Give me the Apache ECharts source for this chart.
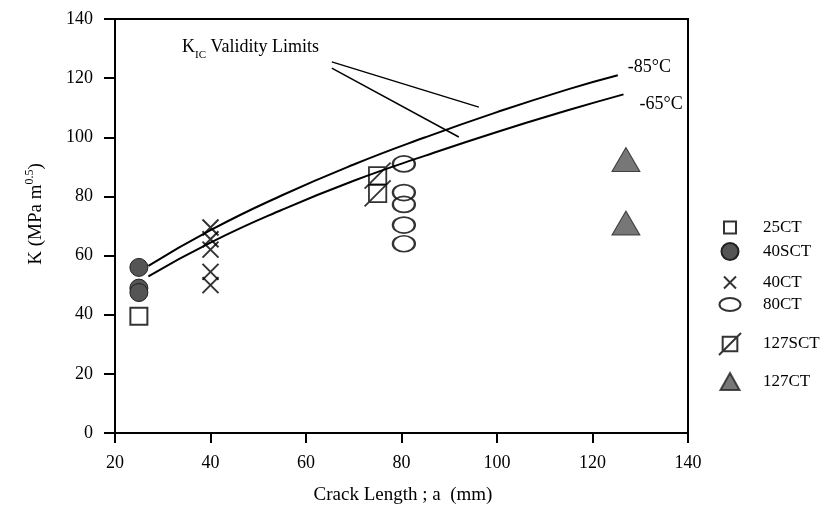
<!DOCTYPE html>
<html>
<head>
<meta charset="utf-8">
<script src="https://cdn.jsdelivr.net/npm/echarts@6/dist/echarts.min.js"></script>
<style>
  html, body { margin: 0; padding: 0; background: #fff; }
  #chart { width: 835px; height: 515px; }
</style>
</head>
<body>
<div id="chart"></div>
<script>
// data: [crack length a (mm), K (MPa m^0.5)]
const ct25 = [[25, 39.5]];
const sct40 = [[25, 56], [25, 49], [25, 47.5]];
const ct40 = [[40, 69.5], [40, 65.5], [40, 62], [40, 54.5], [40, 50]];
const ct80 = [[80.5, 91], [80.5, 81.3], [80.5, 77.3], [80.5, 70.3], [80.5, 64]];
const sct127 = [[75, 87], [75, 81]];
const ct127 = [[127, 92.5], [127, 71]];

// K_IC validity limit curves
const limit85 = [[27, 56.5], [40, 68.6], [55, 80.4], [70, 90.8], [85, 100], [100, 108.5], [115, 116.3], [125.3, 121]];
const limit65 = [[27, 53], [40, 64.4], [55, 75.5], [70, 85.3], [85, 93.8], [100, 101.8], [115, 109.2], [126.5, 114.5]];

// leader lines from the "Validity Limits" note
const noteLines = [
  [[65.4, 125.5], [96.2, 110.2]],
  [[65.4, 123.4], [92, 100.1]]
];

const xTicks = { min: 20, max: 140, step: 20 };
const yTicks = { min: 0, max: 140, step: 20 };

const FONT = "Liberation Serif";
const DARK = "#555";

const chart = echarts.init(document.getElementById("chart"));

// 符号
const crossPath = "path://M0,0L10,10M10,0L0,10";
const ellipsePath = "path://M0,8A11,8 0 1,0 22,8A11,8 0 1,0 0,8Z";
const slashBoxPath = "path://M4,4L20,4L20,20L4,20Z M0,24L24,0";

// one legend per item so the rows sit where they do in the figure
function legendItem(name, cy, w, h, icon, keep) {
  return {
    data: [{ name: name, icon: icon }],
    left: 729 - w / 2,
    top: cy - 10,
    padding: 0,
    itemWidth: w,
    itemHeight: h,
    symbolKeepAspect: keep,
    textStyle: {
      fontFamily: FONT,
      fontSize: 17,
      color: "#000",
      padding: [0, 0, 0, 28 - w / 2],
    },
    selectedMode: false,
  };
}

const option = {
  animation: false,
  backgroundColor: "#fff",
  grid: {
    left: 115,
    right: 147,
    top: 19,
    bottom: 82,
    show: true,
    borderColor: "#000",
    borderWidth: 2,
  },
  xAxis: {
    type: "value",
    min: xTicks.min,
    max: xTicks.max,
    interval: xTicks.step,
    axisLine: { lineStyle: { color: "#000", width: 2 } },
    axisTick: { length: 10, lineStyle: { color: "#000", width: 2 } },
    axisLabel: { margin: 21, color: "#000", fontFamily: FONT, fontSize: 18 },
    splitLine: { show: false },
  },
  yAxis: {
    type: "value",
    min: yTicks.min,
    max: yTicks.max,
    interval: yTicks.step,
    axisLine: { lineStyle: { color: "#000", width: 2 } },
    axisTick: { length: 11, lineStyle: { color: "#000", width: 2 } },
    axisLabel: { margin: 22, color: "#000", fontFamily: FONT, fontSize: 18 },
    splitLine: { show: false },
  },
  legend: [
    legendItem("25CT", 229, 12, 12, "rect", true),
    legendItem("40SCT", 252, 17, 17, "circle", true),
    legendItem("40CT", 284, 12, 12, crossPath, true),
    legendItem("80CT", 306, 21, 13, ellipsePath, false),
    legendItem("127SCT", 342, 22, 22, slashBoxPath, true),
    legendItem("127CT", 382, 19, 17, "triangle", false),
  ],
  graphic: [
    {
      type: "text",
      left: 182,
      top: 38,
      style: {
        text: "{n|K}{sub|IC}{n| Validity Limits}",
        rich: {
          n: { fontFamily: FONT, fontSize: 18, color: "#000", lineHeight: 28, verticalAlign: "middle" },
          sub: { fontFamily: FONT, fontSize: 11, color: "#000", lineHeight: 28, verticalAlign: "bottom" },
        },
      },
    },
    {
      type: "text",
      x: 36,
      y: 214,
      rotation: Math.PI / 2,
      style: {
        text: "{n|K (MPa m}{sup|0.5}{n|)}",
        align: "center",
        verticalAlign: "middle",
        rich: {
          n: { fontFamily: FONT, fontSize: 19, color: "#000", lineHeight: 25, verticalAlign: "middle" },
          sup: { fontFamily: FONT, fontSize: 12, color: "#000", lineHeight: 25, verticalAlign: "top" },
        },
      },
    },
    {
      type: "text",
      x: 403,
      y: 495,
      style: {
        text: "Crack Length ; a  (mm)",
        align: "center",
        verticalAlign: "middle",
        fontFamily: FONT,
        fontSize: 19,
        fill: "#000",
      },
    },
  ],
  series: [
    {
      name: "-85°C",
      type: "line",
      data: limit85,
      smooth: true,
      showSymbol: false,
      silent: true,
      lineStyle: { color: "#000", width: 2 },
      endLabel: {
        show: true,
        formatter: "-85°C",
        offset: [2, -8],
        fontFamily: FONT,
        fontSize: 18,
        color: "#000",
      },
      markLine: {
        silent: true,
        symbol: "none",
        label: { show: false },
        lineStyle: { color: "#000", width: 1.5, type: "solid" },
        data: noteLines.map((seg) => [{ coord: seg[0] }, { coord: seg[1] }]),
      },
    },
    {
      name: "-65°C",
      type: "line",
      data: limit65,
      smooth: true,
      showSymbol: false,
      silent: true,
      lineStyle: { color: "#000", width: 2 },
      endLabel: {
        show: true,
        formatter: "-65°C",
        offset: [8, 10],
        fontFamily: FONT,
        fontSize: 18,
        color: "#000",
      },
    },
    {
      name: "25CT",
      type: "scatter",
      data: ct25,
      symbol: "rect",
      symbolSize: 17,
      itemStyle: { color: "transparent", borderColor: "#000", borderWidth: 2 },
    },
    {
      name: "40SCT",
      type: "scatter",
      data: sct40,
      symbol: "circle",
      symbolSize: 18,
      itemStyle: { color: DARK, borderColor: "#222", borderWidth: 1, opacity: 1 },
    },
    {
      name: "40CT",
      type: "scatter",
      data: ct40,
      symbol: crossPath,
      symbolSize: 16,
      itemStyle: { color: "transparent", borderColor: "#000", borderWidth: 2 },
    },
    {
      name: "80CT",
      type: "scatter",
      data: ct80,
      symbol: ellipsePath,
      symbolSize: [22, 16],
      itemStyle: { color: "transparent", borderColor: "#000", borderWidth: 2 },
    },
    {
      name: "127SCT",
      type: "scatter",
      data: sct127,
      symbol: slashBoxPath,
      symbolSize: 26,
      itemStyle: { color: "transparent", borderColor: "#000", borderWidth: 1.8 },
    },
    {
      name: "127CT",
      type: "scatter",
      data: ct127,
      symbol: "triangle",
      symbolSize: [28, 24],
      itemStyle: { color: DARK, borderColor: "#222", borderWidth: 1 },
    },
  ],
};

chart.setOption(option);
</script>
</body>
</html>
